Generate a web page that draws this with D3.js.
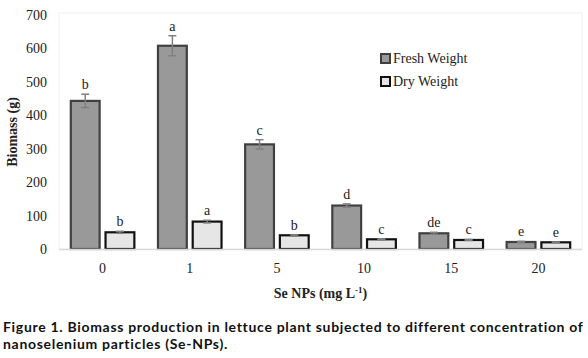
<!DOCTYPE html>
<html>
<head>
<meta charset="utf-8">
<title>Biomass Se-NPs</title>
<style>
  body { margin: 0; background: #fff; }
  svg { display: block; }
</style>
</head>
<body>
<svg id="chart"></svg>
<script src="https://cdn.jsdelivr.net/npm/d3@7"></script>
<script>
var categories = ["0", "1", "5", "10", "15", "20"];
var seriesNames = ["Fresh Weight", "Dry Weight"];
var freshWeight = [443, 608, 313, 130, 47, 21];
var freshError = [20, 30, 14, 5, 3, 2];
var dryWeight = [50, 82, 41, 29, 27, 20];
var dryError = [3, 4, 2, 1.5, 1.5, 1];
var freshLetters = ["b", "a", "c", "d", "de", "e"];
var dryLetters = ["b", "a", "b", "c", "c", "e"];
var yTicks = [0, 100, 200, 300, 400, 500, 600, 700];

var width = 588, height = 358;
var margin = {top: 15, right: 6, bottom: 109, left: 59};

var svg = d3.select("#chart")
    .attr("width", width)
    .attr("height", height);

var x = d3.scaleBand()
    .domain(categories)
    .range([margin.left, width - margin.right]);

var xSeries = d3.scaleBand()
    .domain(seriesNames)
    .range([0, x.bandwidth()])
    .paddingInner(0.17)
    .paddingOuter(0.34);

var y = d3.scaleLinear()
    .domain([0, 700])
    .range([height - margin.bottom, margin.top]);

// plot frame
svg.append("rect")
    .attr("x", margin.left)
    .attr("y", y(700) - 2)
    .attr("width", width - margin.right - margin.left)
    .attr("height", y(0) - y(700) + 2)
    .attr("fill", "none")
    .attr("stroke", "#f0f0f0");

// y axis
var yAxis = d3.axisLeft(y).tickValues(yTicks).tickSize(0).tickPadding(12);
svg.append("g")
    .attr("transform", "translate(" + margin.left + ",0)")
    .call(yAxis)
    .call(function(g) { g.select(".domain").remove(); })
    .selectAll("text")
    .attr("font-family", "Liberation Serif, serif")
    .attr("font-size", 14)
    .attr("fill", "#222");

var data = seriesNames.map(function(name, si) {
    return categories.map(function(c, i) {
        return {
            cat: c,
            series: name,
            value: si === 0 ? freshWeight[i] : dryWeight[i],
            err: si === 0 ? freshError[i] : dryError[i],
            letter: si === 0 ? freshLetters[i] : dryLetters[i]
        };
    });
});
var flat = data[0].concat(data[1]);

var fills = {"Fresh Weight": "#999999", "Dry Weight": "#e6e6e6"};
var strokes = {"Fresh Weight": "#404040", "Dry Weight": "#111111"};

svg.append("g").selectAll("rect")
    .data(flat)
    .enter()
    .append("rect")
    .attr("x", function(d) { return x(d.cat) + xSeries(d.series); })
    .attr("y", function(d) { return y(d.value); })
    .attr("width", xSeries.bandwidth())
    .attr("height", function(d) { return y(0) - y(d.value); })
    .attr("fill", function(d) { return fills[d.series]; })
    .attr("stroke", function(d) { return strokes[d.series]; })
    .attr("stroke-width", 2.2);

// x axis line
svg.append("line")
    .attr("x1", margin.left)
    .attr("x2", width - margin.right)
    .attr("y1", y(0) + 0.5)
    .attr("y2", y(0) + 0.5)
    .attr("stroke", "#d9d9d9")
    .attr("stroke-width", 1.5);

// error bars
var eb = svg.append("g").attr("stroke", "#808080").attr("stroke-width", 1.5);
flat.forEach(function(d) {
    var cx = x(d.cat) + xSeries(d.series) + xSeries.bandwidth() / 2;
    eb.append("line")
        .attr("x1", cx).attr("x2", cx)
        .attr("y1", y(d.value + d.err)).attr("y2", y(d.value - d.err));
    [d.value + d.err, d.value - d.err].forEach(function(v) {
        eb.append("line")
            .attr("x1", cx - 4).attr("x2", cx + 4)
            .attr("y1", y(v)).attr("y2", y(v));
    });
});

// letters
svg.append("g").selectAll("text")
    .data(flat)
    .enter()
    .append("text")
    .attr("x", function(d) { return x(d.cat) + xSeries(d.series) + xSeries.bandwidth() / 2; })
    .attr("y", function(d) { return y(d.value + d.err) - 5; })
    .attr("text-anchor", "middle")
    .attr("font-family", "Liberation Serif, serif")
    .attr("font-size", 14)
    .attr("fill", "#222")
    .text(function(d) { return d.letter; });

// x axis labels
var xAxis = d3.axisBottom(x).tickSize(0).tickPadding(14);
svg.append("g")
    .attr("transform", "translate(0," + y(0) + ")")
    .call(xAxis)
    .call(function(g) { g.select(".domain").remove(); })
    .selectAll("text")
    .attr("font-family", "Liberation Serif, serif")
    .attr("font-size", 14)
    .attr("fill", "#222");

// axis titles
var xt = svg.append("text")
    .attr("x", (margin.left + width - margin.right) / 2)
    .attr("y", 298)
    .attr("text-anchor", "middle")
    .attr("font-family", "Liberation Serif, serif")
    .attr("font-size", 14)
    .attr("font-weight", "bold")
    .attr("fill", "#222");
xt.append("tspan").text("Se NPs (mg L");
xt.append("tspan").attr("font-size", 9).attr("dy", -5).text("-1");
xt.append("tspan").attr("dy", 5).text(")");

svg.append("text")
    .attr("transform", "translate(17," + ((y(0) + y(700)) / 2) + ") rotate(-90)")
    .attr("text-anchor", "middle")
    .attr("font-family", "Liberation Serif, serif")
    .attr("font-size", 14)
    .attr("font-weight", "bold")
    .attr("fill", "#222")
    .text("Biomass (g)");

// legend
var legend = svg.append("g").attr("transform", "translate(381,54)");
seriesNames.forEach(function(name, i) {
    var g = legend.append("g").attr("transform", "translate(0," + (i * 23) + ")");
    g.append("rect")
        .attr("x", 0).attr("y", 0).attr("width", 9).attr("height", 9)
        .attr("fill", fills[name])
        .attr("stroke", strokes[name])
        .attr("stroke-width", 2);
    g.append("text")
        .attr("x", 12).attr("y", 9)
        .attr("font-family", "Liberation Serif, serif")
        .attr("font-size", 14)
        .attr("fill", "#222")
        .text(name);
});

// caption
var caption = ["Figure 1. Biomass production in lettuce plant subjected to different concentration of",
               "nanoselenium particles (Se-NPs)."];
var capText = svg.append("g").selectAll("text")
    .data(caption)
    .enter()
    .append("text")
    .attr("x", 3)
    .attr("y", function(d, i) { return 332 + i * 17; })
    .attr("font-family", "Lato, sans-serif")
    .attr("font-size", 14)
    .attr("font-weight", "bold")
    .attr("fill", "#111")
    .text(function(d) { return d; });

// stretch the caption to the reference's line width
var first = capText.nodes()[0];
var extra = (580 - first.getComputedTextLength()) / caption[0].length;
capText.attr("letter-spacing", extra);
</script>
</body>
</html>
